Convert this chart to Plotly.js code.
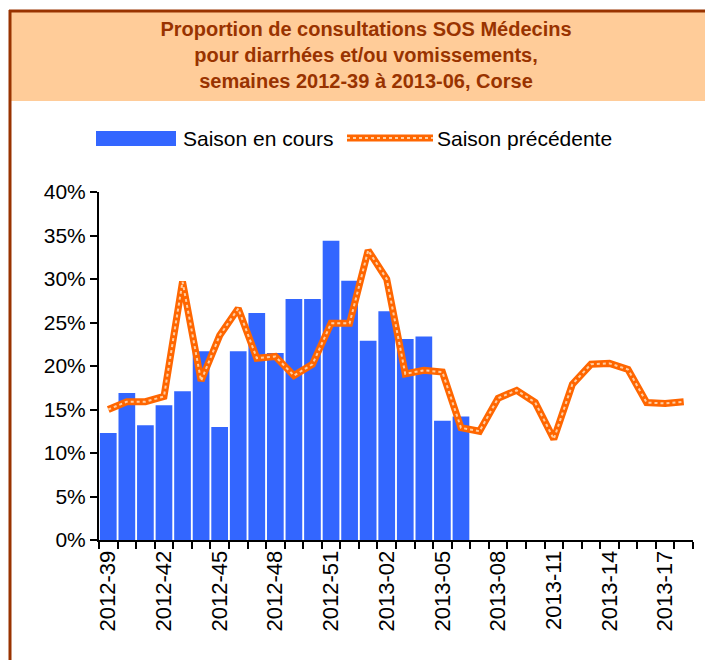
<!DOCTYPE html>
<html>
<head>
<meta charset="utf-8">
<script src="https://cdn.plot.ly/plotly-3.0.1.min.js"></script>
<style>
  body { margin: 0; background: #fff; }
  #chart { width: 705px; height: 660px; }
</style>
</head>
<body>
<div id="chart"></div>
<script>
// semaines (axe des x)
var semaines = ['2012-39', '2012-40', '2012-41', '2012-42', '2012-43', '2012-44', '2012-45',
  '2012-46', '2012-47', '2012-48', '2012-49', '2012-50', '2012-51', '2012-52',
  '2013-01', '2013-02', '2013-03', '2013-04', '2013-05', '2013-06', '2013-07',
  '2013-08', '2013-09', '2013-10', '2013-11', '2013-12', '2013-13', '2013-14',
  '2013-15', '2013-16', '2013-17', '2013-18'];

// proportions en %
var saisonEnCours = [12.3, 16.9, 13.2, 15.5, 17.1, 21.7, 13.0, 21.7, 26.1, 21.5,
  27.7, 27.7, 34.4, 29.8, 22.9, 26.3, 23.1, 23.4, 13.7, 14.2];

var saisonPrecedente = [15.0, 15.9, 15.9, 16.5, 29.7, 18.3, 23.5, 26.6, 20.9, 21.1,
  18.9, 20.2, 24.9, 24.9, 33.3, 30.0, 19.1, 19.5, 19.3, 12.9,
  12.5, 16.3, 17.2, 15.8, 11.6, 17.9, 20.2, 20.3, 19.6, 15.8, 15.7, 15.9];

var libelles = semaines.map(function (s, i) { return i % 3 == 0 ? s : ''; });

// conversion pixels -> coordonnees paper (zone de trace 99..693 x 192..540)
function px(x) { return (x - 99) / 594; }
function py(y) { return (540 - y) / 348; }

var orange = '#FF6600';
var bleu = '#3366FF';
var brun = '#993300';

var barres = {
  x: semaines.slice(0, saisonEnCours.length),
  y: saisonEnCours,
  name: 'Saison en cours',
  type: 'bar',
  marker: {color: bleu, line: {width: 0}},
  showlegend: false
};

var ligne = {
  x: semaines,
  y: saisonPrecedente,
  name: 'Saison précédente',
  type: 'scatter',
  mode: 'lines',
  line: {color: orange, width: 7},
  showlegend: false
};

var motif = {            // petits points blancs sur la ligne epaisse
  x: semaines,
  y: saisonPrecedente,
  type: 'scatter',
  mode: 'lines',
  line: {color: 'rgba(255,225,190,0.85)', width: 2, dash: 'dot'},
  hoverinfo: 'skip',
  showlegend: false
};

var layout = {
  width: 705,
  height: 660,
  margin: {l: 99, r: 12, t: 192, b: 120},
  paper_bgcolor: '#fff',
  plot_bgcolor: '#fff',
  font: {family: '"Liberation Sans", Arial, sans-serif', size: 21, color: '#000'},
  bargap: 0.1,
  title: {
    text: '<b>Proportion de consultations SOS Médecins<br>pour diarrhées et/ou vomissements,<br>semaines 2012-39 à 2013-06, Corse</b>',
    font: {size: 20, color: brun},
    x: 366 / 705,
    xanchor: 'center',
    yref: 'container',
    y: 1 - 36 / 660,
    yanchor: 'top'
  },
  xaxis: {
    type: 'category',
    range: [-0.5, 31.5],
    tickmode: 'array',
    tickvals: semaines,
    ticktext: libelles,
    tickson: 'boundaries',
    ticks: 'outside',
    ticklen: 7,
    tickwidth: 2,
    tickcolor: '#000',
    tickangle: -90,
    tickfont: {size: 22},
    showline: true,
    linecolor: '#000',
    linewidth: 2,
    showgrid: false,
    zeroline: false
  },
  yaxis: {
    range: [0, 40],
    dtick: 5,
    ticksuffix: '%',
    ticks: 'outside',
    ticklen: 7,
    tickwidth: 2,
    tickcolor: '#000',
    showline: true,
    linecolor: '#000',
    linewidth: 2,
    showgrid: false,
    zeroline: false
  },
  shapes: [
    // cadre du titre
    {type: 'rect', xref: 'paper', yref: 'paper', x0: px(10), x1: px(706), y0: py(101), y1: py(11),
      fillcolor: '#FFCC99', line: {width: 0}, layer: 'below'},
    {type: 'line', xref: 'paper', yref: 'paper', x0: px(9), x1: px(706), y0: py(11), y1: py(11),
      line: {color: brun, width: 3}},
    {type: 'line', xref: 'paper', yref: 'paper', x0: px(10), x1: px(10), y0: py(10), y1: py(661),
      line: {color: brun, width: 3}},
    // legende
    {type: 'rect', xref: 'paper', yref: 'paper', x0: px(96), x1: px(176), y0: py(146), y1: py(131),
      fillcolor: bleu, line: {width: 0}},
    {type: 'line', xref: 'paper', yref: 'paper', x0: px(347), x1: px(433), y0: py(138), y1: py(138),
      line: {color: orange, width: 7}},
    {type: 'line', xref: 'paper', yref: 'paper', x0: px(347), x1: px(433), y0: py(138), y1: py(138),
      line: {color: 'rgba(255,225,190,0.85)', width: 2, dash: 'dot'}}
  ],
  annotations: [
    {text: 'Saison en cours', xref: 'paper', yref: 'paper', x: px(181), y: py(138),
      xanchor: 'left', yanchor: 'middle', showarrow: false, font: {size: 21}},
    {text: 'Saison précédente', xref: 'paper', yref: 'paper', x: px(435), y: py(138),
      xanchor: 'left', yanchor: 'middle', showarrow: false, font: {size: 21}}
  ]
};

Plotly.newPlot('chart', [barres, ligne, motif], layout, {displayModeBar: false});
</script>
</body>
</html>
